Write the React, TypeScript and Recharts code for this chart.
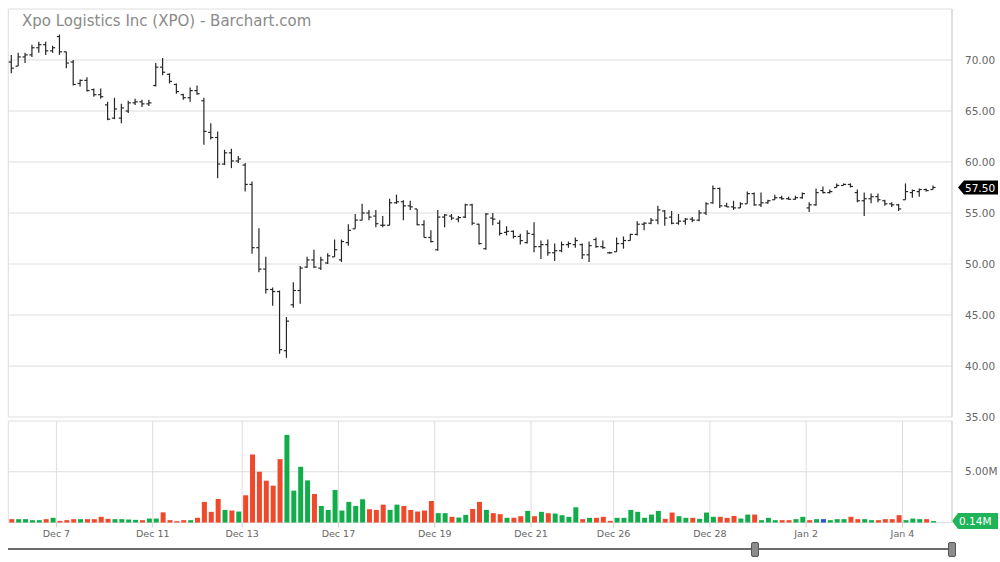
import {
  ComposedChart,
  Bar,
  XAxis,
  YAxis,
  CartesianGrid,
  ReferenceLine,
  Cell,
} from "recharts";

// trading sessions shown (hourly bars per session)
const dayNames = [
  "Dec 6", "Dec 7", "Dec 10", "Dec 11", "Dec 12", "Dec 13", "Dec 14",
  "Dec 17", "Dec 18", "Dec 19", "Dec 20", "Dec 21", "Dec 24", "Dec 26",
  "Dec 27", "Dec 28", "Dec 31", "Jan 2", "Jan 3", "Jan 4",
];
const barsPerDay = [7, 7, 7, 7, 6, 7, 7, 7, 7, 7, 7, 7, 5, 7, 7, 7, 7, 7, 7, 5];
const labeledDays = [
  "Dec 7", "Dec 11", "Dec 13", "Dec 17", "Dec 19",
  "Dec 21", "Dec 26", "Dec 28", "Jan 2", "Jan 4",
];

const opens = [
  69.8, 69.4, 70.3, 70.5, 71.2, 71.5, 70.9,
  72.3, 70.8, 69.8, 67.7, 68.0, 67.1, 66.6,
  65.6, 64.3, 64.3, 65.0, 65.8, 65.9, 65.7,
  67.5, 69.3, 68.6, 67.6, 66.6, 66.3, 67.0,
  66.0, 62.9, 62.4, 59.8, 60.9, 60.1,
  59.7, 57.8, 51.6, 49.5, 47.5, 47.3, 41.5,
  46.0, 47.4, 49.7, 50.4, 49.6, 50.1, 50.7,
  50.4, 52.1, 53.45, 54.3, 55.0, 54.7, 53.8,
  53.8, 56.0, 56.1, 55.7, 55.4, 53.85, 52.6,
  51.4, 54.6, 54.7, 54.4, 54.6, 55.8, 53.9,
  51.5, 54.5, 54.0, 53.1, 53.2, 52.7, 52.1,
  52.9, 51.7, 51.9, 51.1, 51.3, 51.9, 51.9,
  51.9, 50.9, 52.4, 51.7, 51.1,
  51.2, 52.0, 52.3, 52.9, 53.9, 54.0, 54.3,
  55.2, 54.6, 54.0, 54.2, 54.4, 54.3, 55.0,
  56.0, 57.4, 55.7, 55.6, 55.5, 55.9, 56.9,
  55.8, 56.0, 56.3, 56.5, 56.4, 56.35, 56.5,
  55.5, 55.8, 57.2, 57.0, 57.5, 57.7, 57.8,
  57.0, 56.2, 56.4, 56.6, 56.2, 55.9, 55.8,
  56.3, 57.0, 57.1, 57.3, 57.3,
];
const highs = [
  70.5, 70.7, 70.7, 71.5, 71.8, 71.8, 71.4,
  72.5, 70.8, 70.0, 68.1, 68.3, 67.2, 67.2,
  65.9, 66.3, 65.7, 66.0, 66.2, 66.1, 66.1,
  69.7, 70.2, 68.7, 67.7, 66.7, 67.3, 67.5,
  66.3, 63.8, 63.0, 61.2, 61.3, 60.6,
  59.9, 58.1, 53.5, 50.7, 47.7, 47.4, 44.8,
  48.2, 49.8, 50.7, 51.4, 50.7, 51.05, 52.4,
  52.4, 53.9, 54.9, 55.9, 55.3, 55.3, 54.7,
  56.4, 56.8, 56.25, 56.2, 55.4, 54.3, 53.3,
  55.3, 54.9, 54.9, 54.7, 55.9, 55.9, 53.95,
  55.0, 55.0, 54.3, 53.7, 53.3, 52.96, 53.3,
  54.1, 52.3, 52.4, 52.0, 52.2, 52.2, 52.6,
  52.0, 52.2, 52.6, 52.3, 51.2,
  52.6, 52.7, 52.96, 54.2, 54.1, 54.5, 55.7,
  55.3, 55.2, 54.9, 54.5, 54.6, 55.3, 56.05,
  57.7, 57.5, 56.0, 56.2, 56.05, 57.1, 57.0,
  57.0, 56.3, 56.8, 56.7, 56.6, 56.7, 57.0,
  56.05, 57.4, 57.6, 57.3, 57.9, 57.9, 57.9,
  57.3, 57.0, 56.9, 56.9, 56.3, 56.05, 55.9,
  57.9, 57.3, 57.4, 57.4, 57.7,
];
const lows = [
  68.7, 69.4, 69.7, 70.3, 70.7, 70.5, 70.7,
  70.5, 69.2, 67.5, 67.4, 66.9, 66.4, 66.2,
  64.1, 64.2, 63.8, 64.8, 65.6, 65.4, 65.5,
  67.4, 68.5, 67.7, 66.7, 66.1, 65.9, 66.6,
  61.7, 62.2, 58.4, 59.7, 59.4, 59.9,
  57.1, 51.0, 49.2, 47.1, 45.9, 41.2, 40.8,
  45.7, 46.1, 49.6, 49.6, 49.4, 50.0, 50.7,
  50.2, 51.8, 53.45, 54.3, 54.3, 53.6, 53.6,
  53.8, 55.9, 54.3, 55.3, 53.8, 52.6, 52.1,
  51.3, 53.6, 54.3, 54.1, 54.5, 53.8, 51.9,
  51.4, 53.8, 52.8, 52.8, 52.5, 51.9, 52.0,
  51.15, 50.5, 50.8, 50.3, 51.15, 51.6, 51.6,
  50.5, 50.2, 51.6, 51.5, 51.0,
  51.2, 51.5, 52.3, 52.8, 53.3, 53.9, 53.9,
  53.75, 53.9, 53.85, 53.85, 54.1, 54.2, 54.8,
  55.9, 55.5, 55.6, 55.3, 55.5, 55.9, 55.7,
  55.6, 55.9, 56.3, 56.3, 56.3, 56.3, 56.4,
  55.1, 55.7, 56.9, 56.9, 57.5, 57.7, 57.5,
  56.05, 54.7, 55.95, 56.05, 55.7, 55.6, 55.2,
  56.3, 56.5, 56.6, 57.1, 57.3,
];
const closes = [
  69.2, 70.3, 70.5, 71.2, 71.5, 70.9, 71.2,
  70.8, 69.7, 67.6, 68.0, 67.0, 66.6, 66.4,
  64.2, 65.2, 65.3, 65.8, 65.9, 65.7, 65.8,
  69.3, 68.8, 67.9, 66.9, 66.3, 67.0, 66.7,
  63.0, 62.4, 59.8, 60.9, 60.1, 60.3,
  57.8, 51.6, 49.5, 47.5, 47.3, 41.6, 44.4,
  47.4, 49.6, 50.4, 49.7, 50.4, 50.8, 51.4,
  52.2, 53.3, 54.3, 55.0, 54.6, 53.95, 53.8,
  56.0, 56.1, 55.7, 55.6, 53.85, 52.6, 52.2,
  54.6, 54.8, 54.5, 54.55, 55.8, 54.0, 52.0,
  54.9, 54.4, 53.0, 53.2, 52.7, 52.3, 53.0,
  51.7, 51.9, 51.1, 51.3, 51.9, 52.0, 52.3,
  50.9, 51.8, 51.7, 51.6, 51.1,
  52.0, 52.3, 52.9, 53.9, 54.0, 54.3, 55.3,
  54.5, 54.0, 54.2, 54.4, 54.3, 55.0, 55.9,
  57.4, 55.7, 55.6, 55.5, 55.9, 56.9, 55.8,
  56.0, 56.2, 56.5, 56.4, 56.35, 56.5, 56.9,
  55.8, 57.0, 57.0, 57.1, 57.7, 57.8, 57.6,
  56.2, 56.4, 56.6, 56.3, 55.9, 55.8, 55.4,
  57.1, 57.2, 57.3, 57.2, 57.5,
];
// volume in millions
const volumes = [
  0.33, 0.33, 0.33, 0.23, 0.23, 0.33, 0.46,
  0.16, 0.23, 0.33, 0.33, 0.33, 0.33, 0.56,
  0.36, 0.33, 0.33, 0.29, 0.26, 0.23, 0.39,
  0.39, 1.0, 0.23, 0.13, 0.23, 0.23, 0.46,
  2.03, 1.05, 2.32, 1.24, 1.18, 1.08,
  2.68, 6.7, 5.0, 4.12, 3.63, 6.24, 8.63,
  3.14, 5.49, 4.15, 2.81, 1.63, 1.24, 3.2,
  1.18, 2.03, 1.63, 2.29, 1.31, 1.24, 1.76,
  1.24, 1.76, 1.63, 1.24, 1.08, 1.18, 2.12,
  0.92, 0.92, 0.56, 0.49, 0.75, 1.34, 2.03,
  1.24, 0.92, 0.82, 0.46, 0.46, 0.62, 1.14,
  0.62, 1.05, 0.92, 0.88, 0.72, 0.56, 1.5,
  0.33, 0.46, 0.46, 0.56, 0.16,
  0.46, 0.46, 1.24, 1.05, 0.46, 0.78, 1.14,
  0.36, 0.98, 0.62, 0.46, 0.46, 0.36, 0.98,
  0.56, 0.56, 0.46, 0.65, 0.39, 0.78, 0.78,
  0.23, 0.46, 0.23, 0.23, 0.23, 0.33, 0.56,
  0.23, 0.33, 0.33, 0.23, 0.33, 0.33, 0.56,
  0.33, 0.33, 0.23, 0.23, 0.33, 0.33, 0.72,
  0.23, 0.39, 0.33, 0.33, 0.14,
];

const priceTicks = [35, 40, 45, 50, 55, 60, 65, 70, 75];
const volumeTicks = [0, 5, 10];

const UP = "#12ad4b";
const DOWN = "#f0482b";
const FLAT = "#2d4fd0";
const GRID = "#dedede";
const FONT = "'DejaVu Sans', sans-serif";

// first bar index of every session
const dayStart: Record<string, number> = {};
let acc = 0;
dayNames.forEach((d, k) => {
  dayStart[d] = acc;
  acc += barsPerDay[k];
});
const xTicks = labeledDays.map((d) => dayStart[d]);
const tickName: Record<number, string> = {};
labeledDays.forEach((d) => (tickName[dayStart[d]] = d));

const bars = closes.map((c, i) => {
  const prev = i === 0 ? opens[0] : closes[i - 1];
  return {
    x: i + 0.5,
    range: [lows[i], highs[i]],
    open: opens[i],
    high: highs[i],
    low: lows[i],
    close: c,
    volume: volumes[i],
    color: c > prev ? UP : c < prev ? DOWN : FLAT,
  };
});
const xDomain = [0, bars.length + 2.2];

function OhlcBar(props: any) {
  const { x, y, width, height, payload } = props;
  const top = Math.min(y, y + height);
  const bottom = Math.max(y, y + height, top + 1);
  const span = payload.high - payload.low || 1;
  const py = (v: number) => top + ((bottom - top) * (payload.high - v)) / span;
  const cx = x + width / 2;
  return (
    <g stroke="#262626" strokeWidth={1.2}>
      <line x1={cx} x2={cx} y1={top} y2={bottom} />
      <line x1={cx - 2.6} x2={cx} y1={py(payload.open)} y2={py(payload.open)} />
      <line x1={cx} x2={cx + 2.6} y1={py(payload.close)} y2={py(payload.close)} />
    </g>
  );
}

function LastTag(props: any) {
  const { viewBox, text, fill, tip, body } = props;
  const r = viewBox.x + viewBox.width;
  const y = viewBox.y;
  const h = body / 2;
  const pts = `${r + tip},${y} ${r + tip + 6},${y - h} ${r + 46},${y - h} ${r + 46},${y + h} ${r + tip + 6},${y + h}`;
  return (
    <g>
      <polygon points={pts} fill={fill} />
      <text x={r + tip + 7} y={y + 4} fill="#fff" fontSize={10.5} fontFamily={FONT}>
        {text}
      </text>
    </g>
  );
}

export default function App() {
  const last = bars[bars.length - 1];
  return (
    <div
      style={{
        position: "absolute",
        left: 0,
        top: 0,
        width: 1000,
        height: 562,
        background: "#fff",
        fontFamily: FONT,
        overflow: "hidden",
      }}
    >
      <div style={{ position: "absolute", top: 0, left: 0 }}>
        <ComposedChart
          width={1000}
          height={430}
          data={bars}
          margin={{ top: 9, right: 0, bottom: 13, left: 8.3 }}
        >
          <CartesianGrid stroke={GRID} />
          <XAxis
            dataKey="x"
            type="number"
            domain={xDomain}
            ticks={xTicks}
            interval={0}
            tick={false}
            tickLine={false}
            axisLine={false}
            height={0}
          />
          <YAxis
            orientation="right"
            domain={[35, 75]}
            ticks={priceTicks}
            width={48}
            axisLine={{ stroke: "#cfcfcf" }}
            tickLine={false}
            tickMargin={7}
            tick={{ fill: "#666", fontSize: 10.5 }}
            tickFormatter={(v: number) => (v === 75 ? "" : v.toFixed(2))}
          />
          <Bar
            dataKey="range"
            barSize={6}
            shape={<OhlcBar />}
            isAnimationActive={false}
          />
          <ReferenceLine
            y={last.close}
            stroke="none"
            label={
              <LastTag text={last.close.toFixed(2)} fill="#000" tip={6} body={14} />
            }
          />
        </ComposedChart>
      </div>

      <div
        style={{
          position: "absolute",
          left: 22,
          top: 12,
          fontSize: 15,
          color: "#8a8a8a",
          whiteSpace: "nowrap",
        }}
      >
        Xpo Logistics Inc (XPO) - Barchart.com
      </div>

      <div style={{ position: "absolute", top: 410, left: 0 }}>
        <ComposedChart
          width={1000}
          height={152}
          data={bars}
          margin={{ top: 11, right: 0, bottom: 0, left: 8.3 }}
        >
          <CartesianGrid stroke={GRID} />
          <XAxis
            dataKey="x"
            type="number"
            domain={xDomain}
            ticks={xTicks}
            interval={0}
            height={39.5}
            axisLine={false}
            tickLine={{ stroke: "#cfcfcf" }}
            tickSize={5}
            tickMargin={3}
            tick={{ fill: "#666", fontSize: 9.5 }}
            tickFormatter={(v: number) => tickName[v] ?? ""}
          />
          <YAxis
            orientation="right"
            domain={[0, 10]}
            ticks={volumeTicks}
            width={48}
            axisLine={{ stroke: "#cfcfcf" }}
            tickLine={false}
            tickMargin={7}
            tick={{ fill: "#666", fontSize: 10.5 }}
            tickFormatter={(v: number) => (v === 5 ? "5.00M" : "")}
          />
          <Bar dataKey="volume" barSize={5} isAnimationActive={false}>
            {bars.map((b, i) => (
              <Cell key={`v-${i}`} fill={b.color} />
            ))}
          </Bar>
          <ReferenceLine
            y={last.volume}
            stroke="none"
            label={
              <LastTag
                text={`${last.volume.toFixed(2)}M`}
                fill="#1fb457"
                tip={0}
                body={16}
              />
            }
          />
        </ComposedChart>
      </div>

      {/* range scroller under the chart */}
      <div
        style={{
          position: "absolute",
          left: 8,
          top: 548,
          width: 944,
          height: 2,
          background: "#6b6b6b",
        }}
      />
      {[751, 948].map((left) => (
        <div
          key={left}
          style={{
            position: "absolute",
            left,
            top: 542,
            width: 6,
            height: 13,
            background: "#8c8c8c",
            border: "1px solid #555",
            borderRadius: 2,
          }}
        />
      ))}
    </div>
  );
}
